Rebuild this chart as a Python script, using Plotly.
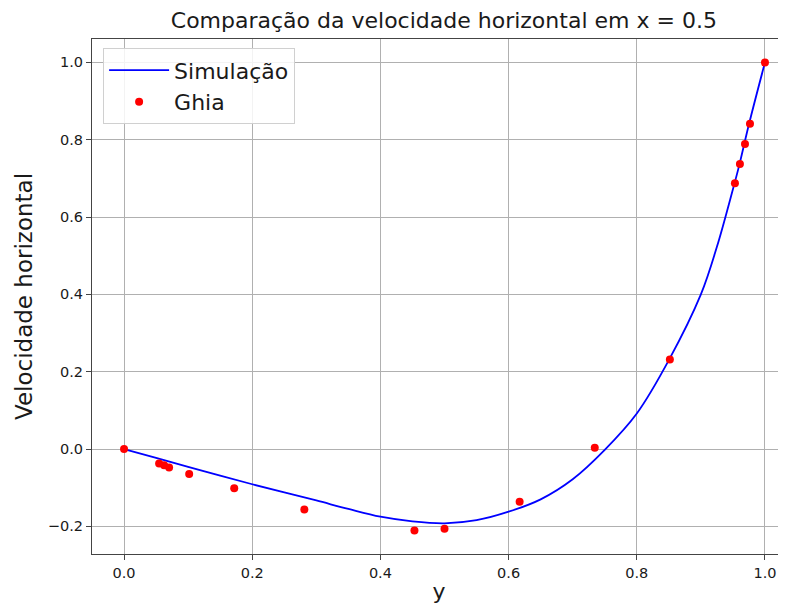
import plotly.graph_objects as go

# Simulation profile
sim_y = [0.0, 0.05, 0.1, 0.15, 0.2, 0.25, 0.3, 0.35, 0.4, 0.45, 0.5, 0.55, 0.6,
         0.65, 0.7, 0.75, 0.8, 0.85, 0.9, 0.925, 0.95, 0.96, 0.975, 1.0]
sim_u = [0.0, -0.023, -0.046, -0.069, -0.091, -0.112, -0.133, -0.155, -0.175,
         -0.187, -0.192, -0.184, -0.162, -0.130, -0.078, -0.002, 0.092, 0.230,
         0.400, 0.523, 0.672, 0.735, 0.84, 1.0]

# Ghia et al. reference data
ghia_y = [0.0, 0.0547, 0.0625, 0.0703, 0.1016, 0.1719, 0.2813, 0.4531, 0.5,
          0.6172, 0.7344, 0.8516, 0.9531, 0.9609, 0.9688, 0.9766, 1.0]
ghia_u = [0.0, -0.03717, -0.04192, -0.04775, -0.06434, -0.10150, -0.15662,
          -0.21090, -0.20581, -0.13641, 0.00332, 0.23151, 0.68717, 0.73722,
          0.78871, 0.84123, 1.0]

x_ticks = [0.0, 0.2, 0.4, 0.6, 0.8, 1.0]
y_ticks = [-0.2, 0.0, 0.2, 0.4, 0.6, 0.8, 1.0]

FONT = "DejaVu Sans"
TXT = "#1a1a1a"

fig = go.Figure()
fig.add_trace(go.Scatter(x=sim_y, y=sim_u, mode="lines", name="Simulação",
                         line=dict(color="#0000ff", width=1.8, shape="spline", smoothing=1.0)))
fig.add_trace(go.Scatter(x=ghia_y, y=ghia_u, mode="markers", name="Ghia",
                         marker=dict(color="#ff0000", size=8, line=dict(width=0))))

fig.update_layout(
    width=778, height=601,
    margin=dict(l=84, r=0, t=31, b=55, autoexpand=False),
    paper_bgcolor="white", plot_bgcolor="white",
    font=dict(family=FONT, color=TXT),
    title=dict(text="Comparação da velocidade horizontal em x = 0.5",
               x=0.507, xref="paper", xanchor="center", y=0.980, yanchor="middle",
               font=dict(size=22, family=FONT, color=TXT)),
    showlegend=True,
    legend=dict(x=0.016, y=0.982, xanchor="left", yanchor="top",
                bgcolor="rgba(255,255,255,0.85)", bordercolor="#d0d0d0", borderwidth=1,
                font=dict(size=22, family=FONT, color=TXT),
                itemwidth=60, tracegroupgap=0),
)

fig.update_xaxes(
    range=[-0.05, 1.0328], tickvals=x_ticks, ticktext=[f"{v:.1f}" for v in x_ticks],
    automargin=False,
    showgrid=True, gridcolor="#b0b0b0", gridwidth=1,
    showline=True, linecolor="#444444", linewidth=1.2, mirror=True,
    ticks="outside", ticklen=5, tickcolor="#444444",
    tickfont=dict(size=14.5, family=FONT, color=TXT),
    zeroline=False,
    title=dict(text="y", font=dict(size=22, family=FONT, color=TXT), standoff=4),
)
fig.update_yaxes(
    range=[-0.2714, 1.0605], tickvals=y_ticks,
    ticktext=[f"{v:.1f}".replace("-", "\u2212") for v in y_ticks],
    automargin=False,
    showgrid=True, gridcolor="#b0b0b0", gridwidth=1,
    showline=True, linecolor="#444444", linewidth=1.2, mirror=True,
    ticks="outside", ticklen=5, tickcolor="#444444",
    tickfont=dict(size=14.5, family=FONT, color=TXT),
    zeroline=False,
    title=dict(text="Velocidade horizontal", font=dict(size=23, family=FONT, color=TXT), standoff=8),
)

fig.write_html("out.html")
